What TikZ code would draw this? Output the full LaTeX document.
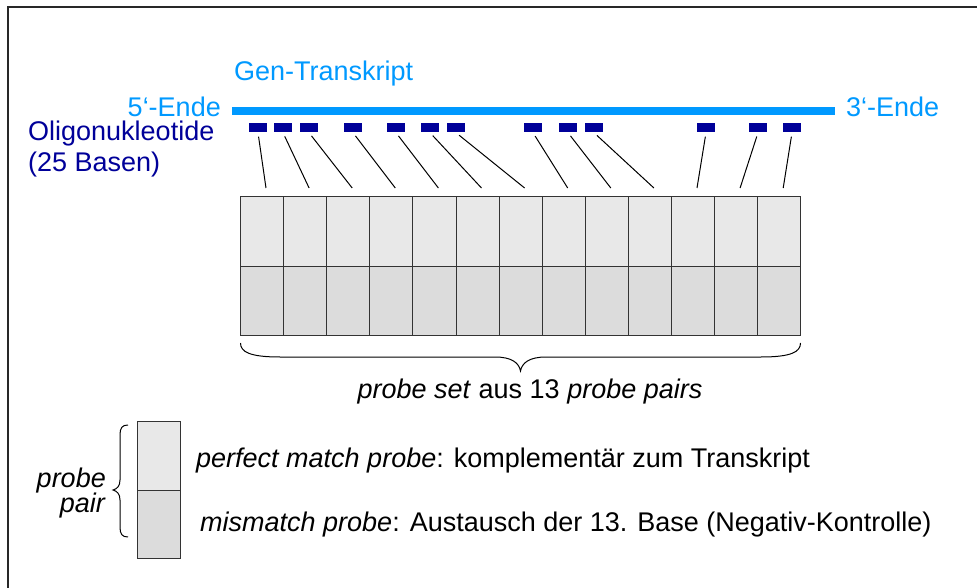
\documentclass[tikz,border=0pt]{standalone}
\usepackage{fontspec}
\setmainfont{Liberation Sans}
\definecolor{transcript}{RGB}{0,153,255}
\definecolor{oligoblue}{RGB}{0,0,153}
\definecolor{pmfill}{RGB}{232,232,232}
\definecolor{mmfill}{RGB}{220,220,220}
\definecolor{frameline}{RGB}{40,40,40}

\begin{document}
\begin{tikzpicture}[x=1pt,y=-1pt,
  lbl/.style={inner sep=0pt, font=\fontsize{27}{32}\selectfont},
  oligo/.style={fill=oligoblue, draw=none, minimum width=18pt, minimum height=9pt, inner sep=0pt},
  link/.style={draw=black, line width=1pt},
  cell/.style={draw=black!80, line width=1pt, minimum width=43.1pt, inner sep=0pt},
  pmcell/.style={cell, fill=pmfill, minimum height=69pt},
  mmcell/.style={cell, fill=mmfill, minimum height=69pt},
  bracepath/.style={draw=black, line width=1pt}
]
\useasboundingbox (0,0) rectangle (977,588);

% outer frame (open towards right and bottom)
\draw[frameline, line width=2pt] (8.2,600) -- (8.2,7.5) -- (990,7.5);

% transcript strand
\node[fill=transcript, minimum width=603pt, minimum height=8pt, inner sep=0pt] (transcript) at (533.5,111) {};
\node[lbl, text=transcript, anchor=base west] (gen) at (234,81) {Gen-Transkript};
\node[lbl, text=transcript, anchor=base east] (end5) at (221,117) {5‘-Ende};
\node[lbl, text=transcript, anchor=base west] (end3) at (846,116.5) {3‘-Ende};
\node[lbl, text=oligoblue, anchor=base west] (oligo) at (28,141) {Oligonukleotide};
\node[lbl, text=oligoblue, anchor=base west] (basen) at (28,172) {(25 Basen)};

% probe pairs: perfect match (top) and mismatch (bottom)
\foreach \k in {1,...,13} {
  \pgfmathsetmacro\cx{262.05+43.1*(\k-1)}
  \node[pmcell] (pm\k) at (\cx,231.5) {};
  \node[mmcell] (mm\k) at (\cx,300.5) {};
}

% oligonucleotides along the transcript and their links to the probes
\foreach \x [count=\k] in {258,283,309,353,396,430,456,533,568,594,706,758,792} {
  \node[oligo] (o\k) at (\x,128) {};
}
\foreach \k in {1,...,13} {
  \coordinate (p\k) at ({266+43.1*(\k-1)},188);
  \draw[link, shorten <=4pt] (o\k.south) -- (p\k);
}

% brace under the probe set
\draw[bracepath] (240.5,343) .. controls (240.5,352) and (250,357) .. (280,357)
  -- (495,357) .. controls (512,357) and (519,363) .. (520.5,371)
  .. controls (522,363) and (529,357) .. (546,357)
  -- (761,357) .. controls (791,357) and (800.5,352) .. (800.5,343);
\node[lbl, anchor=base] (set) at (530,398) {\textit{probe set} aus 13 \textit{probe pairs}};

% legend: one probe pair
\node[cell, fill=pmfill, minimum width=43.5pt, minimum height=69pt] (legpm) at (158.75,455.5) {};
\node[cell, fill=mmfill, minimum width=43.5pt, minimum height=68.5pt] (legmm) at (158.75,524.25) {};
\draw[bracepath] (128,425) .. controls (122,425) and (120,428) .. (120,435)
  -- (120,480) .. controls (120,486) and (117,489) .. (113,490)
  .. controls (117,491) and (120,494) .. (120,500)
  -- (120,527) .. controls (120,534) and (122,537) .. (128,537);
\node[lbl, anchor=base east] (probe) at (106,487) {\textit{probe}};
\node[lbl, anchor=base east] (pair) at (106,512) {\textit{pair}};
\node[lbl, anchor=base west] (pmtext) at (196,467.5) {\textit{perfect match probe}: komplementär zum Transkript};
\node[lbl, anchor=base west] (mmtext) at (200,531) {\textit{mismatch probe}: Austausch der 13. Base (Negativ-Kontrolle)};
\end{tikzpicture}
\end{document}
